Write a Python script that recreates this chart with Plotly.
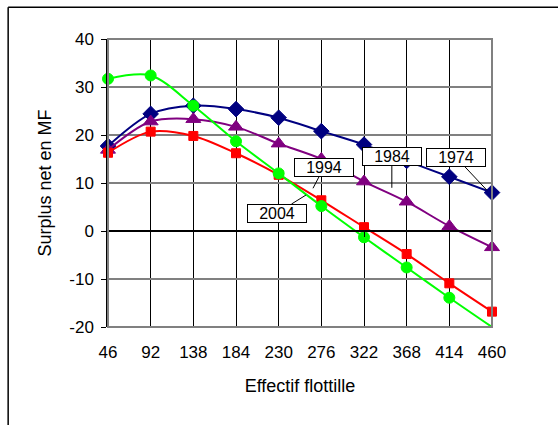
import plotly.graph_objects as go

# Effectif flottille (x categories)
effectif = [46, 92, 138, 184, 230, 276, 322, 368, 414, 460]

# Surplus net en MF per year
surplus_1974 = [17.7, 24.4, 26.1, 25.4, 23.6, 20.8, 18.0, 14.6, 11.3, 8.0]
surplus_1984 = [16.9, 22.8, 23.3, 21.7, 18.2, 15.0, 10.3, 6.1, 1.0, -3.4]
surplus_1994 = [16.3, 20.7, 19.8, 16.2, 11.7, 6.4, 0.8, -4.8, -10.9, -16.8]
surplus_2004 = [31.7, 32.4, 26.1, 18.7, 12.0, 5.2, -1.3, -7.6, -13.9, -20.0]

y_ticks = [-20, -10, 0, 10, 20, 30, 40]
y_labels = ["-20", "-10", "0", "10", "20", "30", "40"]

FONT = "Liberation Sans, Arial, sans-serif"

fig = go.Figure()

series = [
    ("1974", surplus_1974, "#000080", "diamond", 12),
    ("1984", surplus_1984, "#800080", "triangle-up", 13),
    ("1994", surplus_1994, "#FF0000", "square", 9),
    ("2004", surplus_2004, "#00FF00", "circle", 11),
]
for name, vals, color, symbol, size in series:
    sizes = [size] * len(vals)
    if name == "2004":
        sizes[-1] = 0  # last point sits on the axis corner, no marker shown
    fig.add_trace(go.Scatter(
        x=effectif, y=vals, name=name, mode="lines+markers",
        line=dict(color=color, width=2, shape="spline", smoothing=0.9),
        marker=dict(color=color, symbol=symbol, size=sizes, opacity=1,
                    line=dict(width=1, color=color)),
        cliponaxis=False, hoverinfo="skip",
    ))

# ghost trace for the crossing category axis at y=0
fig.add_trace(go.Scatter(x=effectif, y=[0] * len(effectif), xaxis="x2",
                         mode="lines", line=dict(width=0), showlegend=False,
                         hoverinfo="skip"))

# callout labels: tip position (data) and box offset (px)
callouts = [
    ("1974", 454.5, 8.5, -31, -33),
    ("1984", 352, 9.0, 0, -31),
    ("1994", 267, 8.9, 11, -21),
    ("2004", 259.5, 7.5, -29, 18),
]
for text, x, y, ax, ay in callouts:
    fig.add_annotation(
        x=x, y=y, ax=ax, ay=ay, text=text, showarrow=True, arrowhead=0,
        arrowwidth=1, arrowcolor="black", bgcolor="white", bordercolor="black",
        borderwidth=1, borderpad=0, font=dict(family=FONT, size=16, color="black"),
        width=58, height=17,
    )

# plot area border (gray)
fig.add_shape(type="rect", xref="paper", yref="paper", x0=0, x1=1, y0=0, y1=1,
              line=dict(color="#808080", width=2), layer="above")
# outer chart frame (top and left edges visible in the window)
fig.add_shape(type="line", xref="paper", yref="paper", x0=-0.26, x1=1.2,
              y0=1.11, y1=1.11, line=dict(color="black", width=1.5))
fig.add_shape(type="line", xref="paper", yref="paper", x0=-0.26, x1=-0.26,
              y0=-0.4, y1=1.11, line=dict(color="black", width=1.5))

fig.update_layout(
    width=558, height=425,
    margin=dict(l=108, r=66, t=39, b=98),
    paper_bgcolor="white", plot_bgcolor="white",
    showlegend=False, hovermode=False,
    font=dict(family=FONT, size=17, color="black"),
    xaxis=dict(
        range=[46, 460], tickvals=effectif, ticktext=[str(v) for v in effectif],
        showgrid=True, gridcolor="black", gridwidth=1,
        zeroline=False, showline=False, ticks="", ticklabelstandoff=13,
        tickfont=dict(size=17),
        title=dict(text="Effectif flottille", font=dict(size=18), standoff=18),
    ),
    xaxis2=dict(
        range=[46, 460], tickvals=effectif, overlaying="x", anchor="free",
        position=1 / 3, side="bottom", showticklabels=False, showgrid=False,
        showline=True, linecolor="black", linewidth=1.5,
        ticks="outside", ticklen=5, tickcolor="black", zeroline=False,
    ),
    yaxis=dict(
        range=[-20, 40], tickvals=y_ticks, ticktext=y_labels, showgrid=True,
        gridcolor="#808080", gridwidth=1.5, zeroline=False, showline=True,
        linecolor="black", linewidth=1.5, ticks="outside", ticklen=5,
        tickcolor="black", tickfont=dict(size=17), ticklabelstandoff=4,
        title=dict(text="Surplus net en MF", font=dict(size=18), standoff=13),
    ),
)

fig.write_html("out.html", config={"displayModeBar": False},
               post_script="document.body.style.margin = '0';")
